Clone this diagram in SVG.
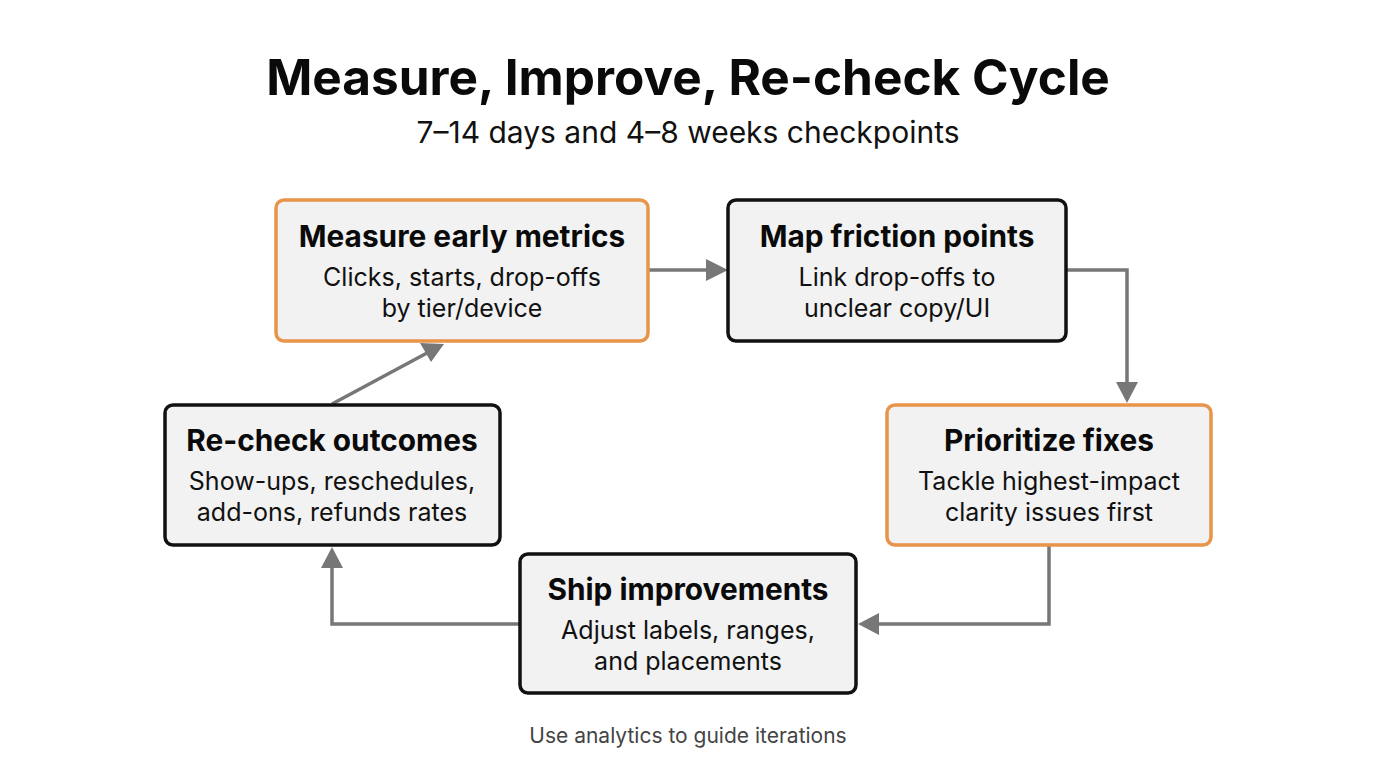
<svg xmlns="http://www.w3.org/2000/svg" width="1376" height="768" viewBox="0 0 1376 768">
<style>
.box{fill:#F2F2F2;stroke-width:3.5}
.or{stroke:#E8944A}
.bk{stroke:#111}
.t{font-family:Inter,"Liberation Sans",sans-serif;font-weight:700;font-size:29.8px;fill:#0a0a0a;text-anchor:middle}
.b{font-family:Inter,"Liberation Sans",sans-serif;font-size:25px;fill:#111;text-anchor:middle}
.c{fill:none;stroke:#777;stroke-width:3.5}
.h{fill:#777}
</style>
<rect width="1376" height="768" fill="#fff"/>
<text x="688" y="95" font-family="Inter,'Liberation Sans',sans-serif" font-weight="700" font-size="49.5" fill="#0a0a0a" text-anchor="middle">Measure, Improve, Re-check Cycle</text>
<text x="688" y="143" font-family="Inter,'Liberation Sans',sans-serif" font-size="30" fill="#111" text-anchor="middle">7–14 days and 4–8 weeks checkpoints</text>
<g id="connectors">
<polyline class="c" points="648,270 708,270"/>
<path class="h" d="M728,270 L706,259 L706,281 z"/>
<polyline class="c" points="1066,270 1127,270 1127,385"/>
<path class="h" d="M1127,403 L1116,382 L1138,382 z"/>
<polyline class="c" points="1049,545 1049,624 878,624"/>
<path class="h" d="M858,624 L879,613 L879,635 z"/>
<polyline class="c" points="520,624 332,624 332,567"/>
<path class="h" d="M332,547 L321,568 L343,568 z"/>
<polyline class="c" points="332,404 427,353"/>
<path class="h" d="M444,344 L420,343 L431,362 z"/>
</g>
<g id="n1">
<rect class="box or" x="276" y="200" width="372" height="141" rx="8"/>
<text class="t" x="462" y="247">Measure early metrics</text>
<text class="b" x="462" y="286">Clicks, starts, drop-offs</text>
<text class="b" x="462" y="317">by tier/device</text>
</g>
<g id="n2">
<rect class="box bk" x="728" y="200" width="338" height="141" rx="8"/>
<text class="t" x="897" y="247">Map friction points</text>
<text class="b" x="897" y="286">Link drop-offs to</text>
<text class="b" x="897" y="317">unclear copy/UI</text>
</g>
<g id="n3">
<rect class="box or" x="887" y="405" width="324" height="140" rx="8"/>
<text class="t" x="1049" y="451">Prioritize fixes</text>
<text class="b" x="1049" y="490">Tackle highest-impact</text>
<text class="b" x="1049" y="521">clarity issues first</text>
</g>
<g id="n4">
<rect class="box bk" x="520" y="554" width="336" height="139" rx="8"/>
<text class="t" x="688" y="600">Ship improvements</text>
<text class="b" x="688" y="639">Adjust labels, ranges,</text>
<text class="b" x="688" y="670">and placements</text>
</g>
<g id="n5">
<rect class="box bk" x="165" y="405" width="335" height="140" rx="8"/>
<text class="t" x="332" y="451">Re-check outcomes</text>
<text class="b" x="332" y="490">Show-ups, reschedules,</text>
<text class="b" x="332" y="521">add-ons, refunds rates</text>
</g>
<text x="688" y="743" font-family="Inter,'Liberation Sans',sans-serif" font-size="21" fill="#444" text-anchor="middle">Use analytics to guide iterations</text>
</svg>
